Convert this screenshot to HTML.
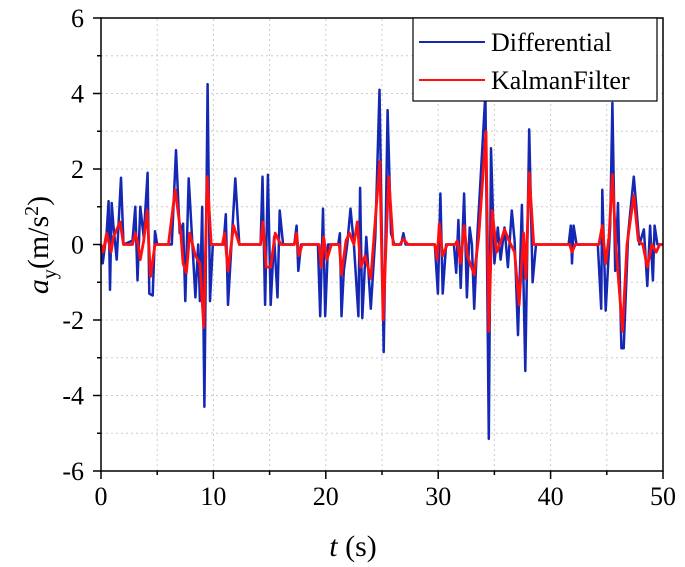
<!DOCTYPE html>
<html><head><meta charset="utf-8"><style>
html,body{margin:0;padding:0;background:#fff;}
svg{display:block;font-family:"Liberation Serif",serif;}
</style></head><body>
<svg id="chart" width="685" height="567" viewBox="0 0 685 567">
<g id="grid"></g>
<g id="series"></g>
<g id="axes"></g>
<text x="353" y="556" font-size="30" text-anchor="middle"><tspan font-style="italic">t</tspan> (s)</text>
<text transform="translate(48,245) rotate(-90)" font-size="30" text-anchor="middle"><tspan font-style="italic">a</tspan><tspan font-size="20" dy="8">y</tspan><tspan dy="-8">(m/s</tspan><tspan font-size="20" dy="-10">2</tspan><tspan dy="10">)</tspan></text>
<g>
<rect x="413" y="18" width="244" height="83" fill="#fff" stroke="#000" stroke-width="1.2"/>
<line x1="419" y1="42" x2="485" y2="42" stroke="#1428b4" stroke-width="2"/>
<text x="491" y="51" font-size="26">Differential</text>
<line x1="419" y1="80" x2="485" y2="80" stroke="#ff1010" stroke-width="2"/>
<text x="491" y="89" font-size="26">KalmanFilter</text>
</g>
</svg>
<script>
const xTicks=[0,10,20,30,40,50];
const yTicks=[6,4,2,0,-2,-4,-6];
const diffT=[0,0.15,0.5,0.68,0.8,0.95,1.1,1.4,1.78,2.0,2.8,3.05,3.25,3.5,3.8,4.15,4.3,4.6,4.8,5.0,6.3,6.67,7.0,7.3,7.5,7.8,8.1,8.4,8.65,8.8,9.0,9.2,9.48,9.7,9.95,10.9,11.1,11.3,11.95,12.3,14.2,14.37,14.6,14.85,15.1,15.4,15.7,15.9,16.2,17.2,17.4,17.55,17.8,19.3,19.5,19.75,19.95,20.2,21.1,21.25,21.4,21.6,21.9,22.2,22.5,22.9,23.05,23.25,23.6,24.0,24.4,24.78,25.15,25.5,25.8,26.1,26.7,26.9,27.1,29.7,29.97,30.2,30.4,30.7,31.4,31.6,31.8,32.0,32.3,32.55,32.8,33.0,33.2,33.5,34.2,34.5,34.7,35.0,35.3,35.55,35.9,36.2,36.55,36.8,37.1,37.45,37.75,38.1,38.4,38.7,41.6,41.8,41.9,42.05,42.3,44.2,44.5,44.6,44.9,45.3,45.5,45.75,46.0,46.3,46.5,46.9,47.4,47.6,47.9,48.3,48.6,48.85,49.1,49.25,49.5,50];
const diffV=[0,-0.5,0.3,1.15,-1.2,1.1,0.5,-0.4,1.77,0,0.1,1.0,-0.95,1.0,0.2,1.9,-1.3,-1.35,0.35,0,0,2.5,0.3,0.55,-1.5,1.75,0.2,-1.4,0,-1.5,1.0,-4.3,4.25,-1.5,0,0,0.8,-1.6,1.75,0,0,1.8,-1.6,1.85,-1.6,0.2,-1.4,0.9,0,0,0.5,-0.7,0,0,-1.9,0.95,-1.9,0,0,0.3,-1.9,-0.7,0,0.95,0,-1.9,1.5,-1.95,0.2,-1.7,0.2,4.1,-2.85,3.56,0.3,0,0,0.3,0,0,-1.3,1.35,-1.3,0,0,-0.75,0.65,-1.15,1.35,-1.4,0.45,0,-1.7,0.3,4.0,-5.15,2.55,-0.5,0.45,-0.4,0.45,-0.6,0.9,0.1,-2.4,1.05,-3.35,3.05,-1.0,0,0,0.5,-0.5,0.5,0,0,-1.7,1.45,-1.75,0.5,3.75,-0.7,1.1,-2.75,-2.75,0.3,1.8,1.1,0,0.4,-1.1,0.5,-0.95,0.5,0,0];
const kalT=[0,0.2,0.5,0.9,1.1,1.7,2.0,2.8,3.05,3.3,3.5,3.8,4.1,4.4,4.8,6.0,6.6,7.1,7.3,7.6,7.9,8.4,8.8,9.15,9.45,9.8,10.8,11.0,11.3,11.8,12.3,14.2,14.4,14.7,15.1,15.5,16.0,17.2,17.4,17.6,17.9,19.4,19.6,19.8,20.1,20.5,21.2,21.4,21.8,22.1,22.5,22.8,23.1,23.5,24.0,24.8,25.1,25.6,26.0,26.6,26.9,27.3,29.7,29.9,30.1,30.4,30.8,31.5,31.7,32.0,32.3,32.6,33.2,33.6,34.25,34.5,34.8,35.2,35.6,35.9,36.3,36.8,37.2,37.6,37.8,38.1,38.5,41.7,41.9,42.2,44.3,44.6,44.9,45.2,45.5,45.8,46.4,46.8,47.4,47.8,48.2,48.6,49.0,49.4,49.7,50];
const kalV=[0,-0.2,0.3,-0.2,0.2,0.6,0,0,0.3,0,-0.4,0.1,0.9,-0.85,0,0,1.45,0.3,-0.5,-0.75,0.3,-0.3,-0.5,-2.2,1.8,0,0,0.3,-0.7,0.5,0,0,0.6,-0.6,-0.6,0.3,0,0,0.3,-0.3,0,0,-0.6,0.2,-0.4,0,0,-0.8,0.1,0.3,0,0.6,-0.6,-0.3,-0.9,2.2,-2.0,1.8,0,0,0.15,0,0,-0.4,0.55,-0.3,0,0,0.1,-0.5,0.5,-0.3,-0.8,0.2,3.0,-2.3,0.9,-0.2,0.1,0.4,0.1,-0.2,-1.6,0.3,-0.9,1.9,0,0,-0.2,0,0,0.5,-0.5,0.2,1.85,0,-2.3,0,1.3,0.1,0,-0.6,0,-0.2,0,0];
const X0=101,X1=663,Y0=471,Y1=18;
function xs(t){return X0+(t-0)/(50-0)*(X1-X0);}
function ys(v){return Y0-(v+6)/12*(Y0-Y1);}
const NS="http://www.w3.org/2000/svg";
function mk(tag,attrs,parent){const e=document.createElementNS(NS,tag);for(const k in attrs)e.setAttribute(k,attrs[k]);parent.appendChild(e);return e;}
const grid=document.getElementById('grid'),axes=document.getElementById('axes'),series=document.getElementById('series');
for(let v=-5;v<=5;v++){if(v===0)continue;const l=mk('line',{x1:X0,x2:X1,y1:ys(v),y2:ys(v),stroke:'#ccc','stroke-width':1,'stroke-dasharray':'2,3'},grid);

}
for(let t=5;t<50;t+=5){const l=mk('line',{x1:xs(t),x2:xs(t),y1:Y0,y2:Y1,stroke:'#ccc','stroke-width':1,'stroke-dasharray':'2,3'},grid);

}
function poly(T,V,color,w,name){const p=mk('polyline',{points:T.map((t,i)=>xs(t).toFixed(1)+','+ys(V[i]).toFixed(1)).join(' '),fill:'none',stroke:color,'stroke-width':w,'stroke-linejoin':'round'},series);

}
poly(diffT,diffV,'#1428b4',2.5,'differential-line');
poly(kalT,kalV,'#ff1010',2.8,'kalman-filter-line');
mk('rect',{x:X0,y:Y1,width:X1-X0,height:Y0-Y1,fill:'none',stroke:'#000','stroke-width':1.5},axes);
for(let v=-6;v<=6;v++){const major=v%2===0;const l=mk('line',{x1:X0-(major?8:4),x2:X0,y1:ys(v),y2:ys(v),stroke:'#000','stroke-width':1.5},axes);

}
for(let t=0;t<=50;t+=5){const major=t%10===0;const l=mk('line',{x1:xs(t),x2:xs(t),y1:Y0,y2:Y0+(major?8:4),stroke:'#000','stroke-width':1.5},axes);

}
yTicks.forEach(v=>{const e=mk('text',{x:84,y:ys(v)+9,'font-size':26,'text-anchor':'end'},axes);e.textContent=String(v);

});
xTicks.forEach(t=>{const e=mk('text',{x:xs(t),y:505,'font-size':26,'text-anchor':'middle'},axes);e.textContent=String(t);

});
</script>
</body></html>
